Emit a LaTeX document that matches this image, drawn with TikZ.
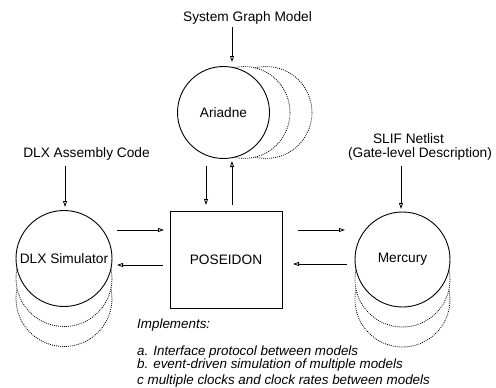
\documentclass[tikz,border=0pt]{standalone}
\usepackage{fontspec}
\setmainfont{Liberation Sans}
\usetikzlibrary{arrows.meta}
\begin{document}
\begin{tikzpicture}[x=1pt,y=-1pt,
  font=\fontsize{13.7}{16}\selectfont,
  arr/.style={-{Triangle[open,length=6pt,width=4pt]}, line width=0.8pt},
  mainc/.style={circle,draw,fill=white,line width=0.9pt,minimum size=#1,inner sep=0pt},
  ghost/.style={circle,draw,fill=white,line width=0.8pt,dash pattern=on 0.9pt off 1.1pt,minimum size=#1,inner sep=0pt},
  lbl/.style={inner sep=0pt},
  note/.style={inner sep=0pt,anchor=west,font=\fontsize{13.4}{16}\selectfont\itshape}]
\useasboundingbox (0,0) rectangle (496,388);

% labels
\node[lbl] (sgm) at (247.5,18) {System Graph Model};
\node[lbl] (dlxin) at (86.5,154) {DLX Assembly Code};
\node[lbl] (slif) at (408.5,139) {SLIF Netlist};
\node[lbl] (gate) at (420,154) {(Gate-level Description)};

% Ariadne
\node[ghost=92pt] (ari3) at (266,112.5) {};
\node[ghost=92pt] (ari2) at (244,112.5) {};
\node[mainc=92pt] (ari) at (223.5,112.5) {Ariadne};

% DLX
\node[ghost=96pt] (dlx3) at (64,298.5) {};
\node[ghost=96pt] (dlx2) at (64,278.5) {};
\node[mainc=96pt] (dlx) at (64,258.5) {DLX Simulator};

% Mercury
\node[ghost=95pt] (mer3) at (402.5,299.5) {};
\node[ghost=95pt] (mer2) at (402.5,279.5) {};
\node[mainc=95pt] (mer) at (402.5,259.5) {Mercury};

% POSEIDON
\node[draw,line width=0.9pt,minimum width=112pt,minimum height=97pt,inner sep=0pt] (pos) at (226,259.5) {POSEIDON};

% arrow end points
\coordinate (a1s) at (232,27);  \coordinate (a1e) at (232,62);
\coordinate (a2s) at (206,166); \coordinate (a2e) at (206,205);
\coordinate (a3s) at (232,205); \coordinate (a3e) at (232,161);
\coordinate (a4s) at (65,166);  \coordinate (a4e) at (65,207);
\coordinate (a5s) at (117,230); \coordinate (a5e) at (164,230);
\coordinate (a6s) at (163,265); \coordinate (a6e) at (117,265);
\coordinate (a7s) at (298,230); \coordinate (a7e) at (345,230);
\coordinate (a8s) at (347,264); \coordinate (a8e) at (293,264);
\coordinate (a9s) at (401,166); \coordinate (a9e) at (401,209);

\draw[arr] (a1s) -- (a1e);
\draw[arr] (a2s) -- (a2e);
\draw[arr] (a3s) -- (a3e);
\draw[arr] (a4s) -- (a4e);
\draw[arr] (a5s) -- (a5e);
\draw[arr] (a6s) -- (a6e);
\draw[arr] (a7s) -- (a7e);
\draw[arr] (a8s) -- (a8e);
\draw[arr] (a9s) -- (a9e);

% notes
\node[note] (imp) at (137,325) {Implements:};
\node[note] (na) at (137,352) {a. Interface protocol between models};
\node[note] (nb) at (137,365.5) {b. event-driven simulation of multiple models};
\node[note] (nc) at (137,381) {c multiple clocks and clock rates between models};
\end{tikzpicture}
\end{document}
